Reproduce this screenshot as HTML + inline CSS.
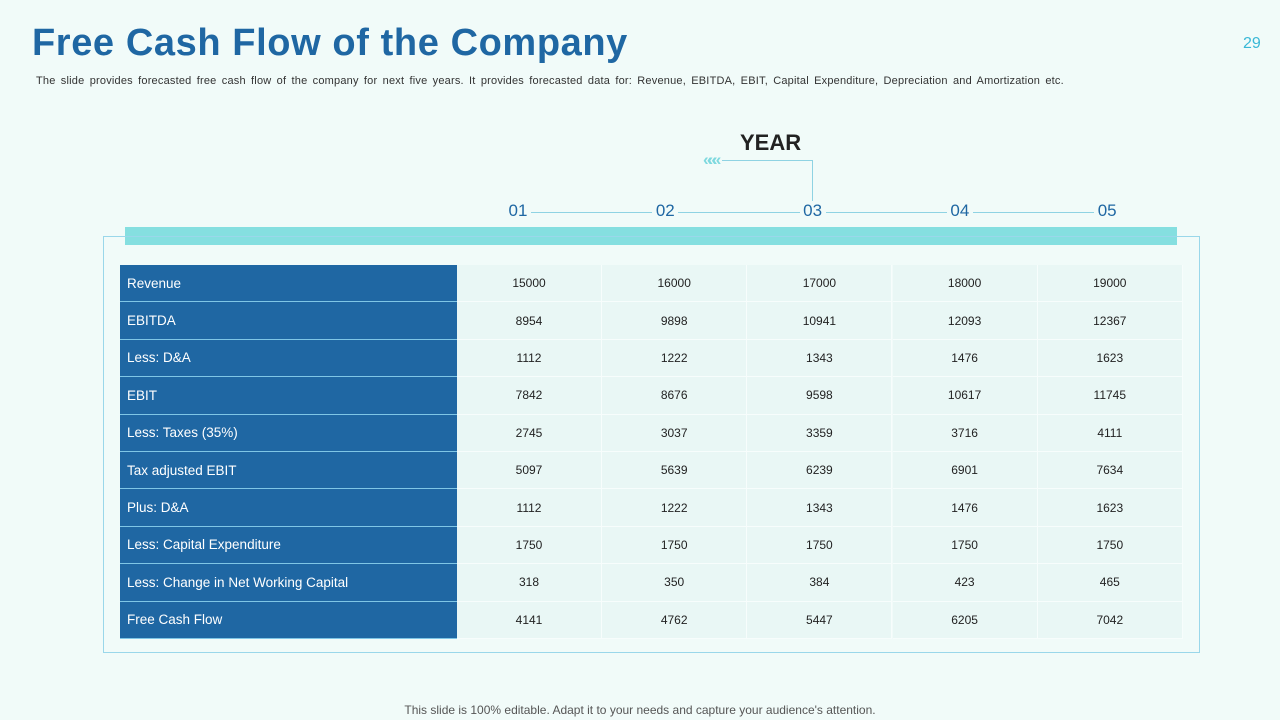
<!DOCTYPE html>
<html><head><meta charset="utf-8"><style>
body{margin:0;width:1280px;height:720px;background:#f1fbf9;font-family:"Liberation Sans",sans-serif;position:relative;overflow:hidden}
.a{position:absolute}
.lab{position:absolute;left:120px;width:337px;background:#1f67a3;color:#fff;font-size:13.5px;box-sizing:border-box;padding-left:7px;display:flex;align-items:center;border-bottom:1px solid #7fc6e6}
.cell{position:absolute;width:145px;background:#e9f7f5;font-size:12px;color:#222;display:flex;align-items:center;justify-content:center;border-right:1px solid #f7fdfc;border-bottom:1px solid #f7fdfc;box-sizing:border-box}
.yr{position:absolute;top:201px;font-size:17px;color:#1f67a3;width:26px;text-align:center;margin-left:-13px;background:#f1fbf9}
</style></head><body>
<div class="a" style="left:32px;top:22px;font-size:38px;font-weight:bold;color:#1f67a3;letter-spacing:0.6px">Free Cash Flow of the Company</div>
<div class="a" style="left:1243px;top:35px;font-size:16px;color:#3ab8d6">29</div>
<div class="a" style="left:36px;top:75px;font-size:11px;color:#333;letter-spacing:0.2px;word-spacing:2px">The slide provides forecasted free cash flow of the company for next five years. It provides forecasted data for: Revenue, EBITDA, EBIT, Capital Expenditure, Depreciation and Amortization etc.</div>
<div class="a" style="left:740px;top:130px;font-size:22px;font-weight:bold;color:#222">YEAR</div>
<div class="a" style="left:722px;top:160px;width:90px;height:52px;border-top:1px solid #8fd3e3;border-right:1px solid #8fd3e3"></div>
<div class="a" style="left:703px;top:150px;font-size:17px;color:#7fd9df;font-weight:bold;letter-spacing:-5px">«««</div>
<div class="a" style="left:518px;top:212px;width:590px;height:1px;background:#8fd3e3"></div>
<div class="a" style="left:125px;top:227px;width:1052px;height:18px;background:#85dfe0"></div>
<div class="a" style="left:103px;top:236px;width:1097px;height:417px;border:1px solid #9ad7ea;box-sizing:border-box"></div>
<div id="t"></div>
<div class="a" style="left:0;width:1280px;text-align:center;top:703px;font-size:12px;color:#555">This slide is 100% editable. Adapt it to your needs and capture your audience's attention.</div>
<script>
const years=["01","02","03","04","05"];
const rows=["Revenue","EBITDA","Less: D&A","EBIT","Less: Taxes (35%)","Tax adjusted EBIT","Plus: D&A","Less: Capital Expenditure","Less: Change in Net Working Capital","Free Cash Flow"];
const y1=[15000,8954,1112,7842,2745,5097,1112,1750,318,4141];
const y2=[16000,9898,1222,8676,3037,5639,1222,1750,350,4762];
const y3=[17000,10941,1343,9598,3359,6239,1343,1750,384,5447];
const y4=[18000,12093,1476,10617,3716,6901,1476,1750,423,6205];
const y5=[19000,12367,1623,11745,4111,7634,1623,1750,465,7042];
const cols=[y1,y2,y3,y4,y5];
const top0=265,rh=37.4,cx0=457,cw=145.2;
const t=document.getElementById('t');
years.forEach((y,i)=>{const d=document.createElement('div');d.className='yr';d.style.left=(518+147.3*i)+'px';d.textContent=y;


t.appendChild(d);});
rows.forEach((r,ri)=>{const l=document.createElement('div');l.className='lab';l.style.top=(top0+rh*ri)+'px';l.style.height=rh+'px';l.textContent=r;


t.appendChild(l);
cols.forEach((c,ci)=>{const e=document.createElement('div');e.className='cell';e.style.top=(top0+rh*ri)+'px';e.style.height=rh+'px';e.style.left=(cx0+cw*ci)+'px';e.textContent=c[ri];


t.appendChild(e);});});
</script>
</body></html>
